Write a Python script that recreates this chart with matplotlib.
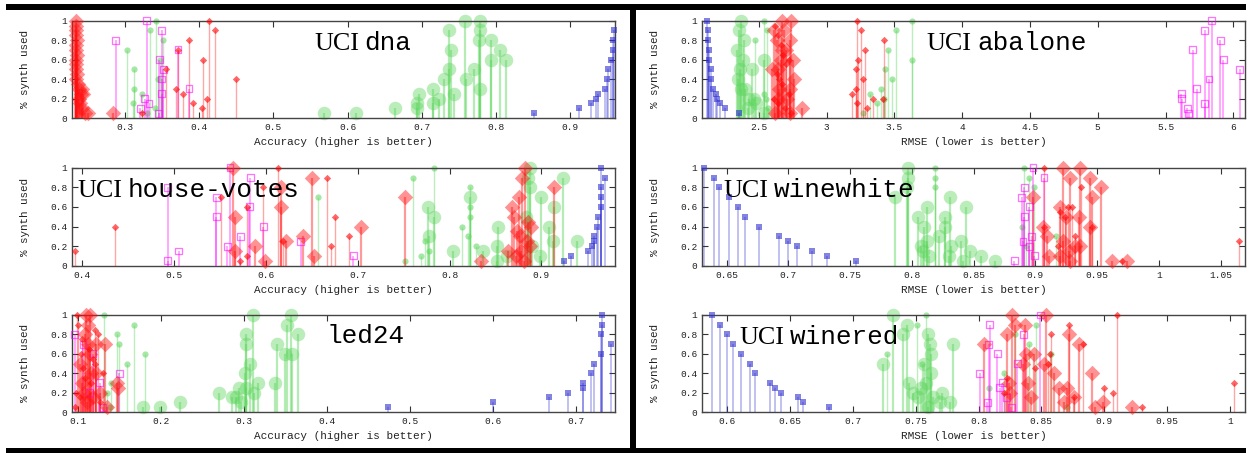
import matplotlib
matplotlib.use("Agg")
import matplotlib.pyplot as plt
from matplotlib.patches import Rectangle
from matplotlib.ticker import FuncFormatter

# ---------------- data: (x, % synth used) ----------------
# UCI dna (accuracy)
DNA_BLUE = [(0.852, 0.05), (0.913, 0.1), (0.929, 0.15), (0.935, 0.2), (0.938, 0.25), (0.947, 0.3),
            (0.950, 0.4), (0.952, 0.5), (0.956, 0.6), (0.958, 0.7), (0.958, 0.8), (0.959, 0.9)]
DNA_GREEN_BIG = [(0.568, 0.05), (0.611, 0.05), (0.664, 0.1), (0.694, 0.1), (0.697, 0.25), (0.694, 0.15),
                 (0.715, 0.15), (0.715, 0.3), (0.724, 0.2), (0.730, 0.4), (0.737, 0.9), (0.737, 0.5),
                 (0.739, 0.7), (0.743, 0.25), (0.758, 1.0), (0.760, 0.4), (0.770, 0.5), (0.779, 1.0),
                 (0.779, 0.9), (0.778, 0.8), (0.779, 0.3), (0.793, 0.8), (0.793, 0.6), (0.806, 0.7),
                 (0.814, 0.6)]
DNA_GREEN_SMALL = [(0.302, 0.7), (0.312, 0.5), (0.312, 0.3), (0.310, 0.15), (0.322, 0.25), (0.329, 0.05),
                   (0.333, 0.9), (0.341, 1.0), (0.344, 0.4), (0.340, 0.1), (0.351, 0.8), (0.347, 0.6)]
DNA_MAGENTA = [(0.287, 0.8), (0.320, 0.1), (0.326, 0.2), (0.329, 1.0), (0.332, 0.15), (0.346, 0.6),
               (0.345, 0.05), (0.349, 0.9), (0.349, 0.4), (0.349, 0.25), (0.351, 0.5), (0.371, 0.7),
               (0.386, 0.3)]
DNA_RED_BIG = [(0.234, 1.0), (0.233, 0.95), (0.234, 0.9), (0.233, 0.85), (0.235, 0.8), (0.234, 0.75),
               (0.233, 0.7), (0.235, 0.65), (0.234, 0.6), (0.233, 0.55), (0.234, 0.5), (0.235, 0.45),
               (0.234, 0.4), (0.236, 0.35), (0.238, 0.3), (0.242, 0.3), (0.240, 0.25), (0.243, 0.25),
               (0.237, 0.2), (0.239, 0.15), (0.241, 0.1), (0.245, 0.05), (0.250, 0.05), (0.284, 0.05)]
DNA_RED_SMALL = [(0.323, 0.05), (0.355, 0.5), (0.368, 0.3), (0.371, 0.7), (0.378, 0.25), (0.386, 0.8),
                 (0.391, 0.15), (0.403, 0.1), (0.405, 0.6), (0.410, 0.2), (0.413, 1.0), (0.421, 0.9),
                 (0.449, 0.4)]

# UCI abalone (RMSE)
ABA_BLUE = [(2.120, 1.0), (2.124, 0.9), (2.126, 0.8), (2.132, 0.7), (2.134, 0.6), (2.144, 0.5),
            (2.149, 0.4), (2.160, 0.3), (2.180, 0.25), (2.190, 0.2), (2.210, 0.15), (2.250, 0.1),
            (2.355, 0.05)]
ABA_GREEN_BIG = [(2.37, 1.0), (2.35, 0.9), (2.39, 0.8), (2.34, 0.7), (2.38, 0.6), (2.45, 0.5), (2.345, 0.4),
                 (2.37, 0.3), (2.40, 0.3), (2.43, 0.2), (2.46, 0.2), (2.48, 0.15), (2.54, 0.05), (2.42, 0.1),
                 (2.36, 0.5), (2.54, 0.6)]
ABA_GREEN_SMALL = [(2.47, 0.8), (2.54, 1.0), (2.56, 0.9), (2.54, 0.25), (2.555, 0.2), (2.57, 0.1),
                   (3.27, 0.05), (3.32, 0.25), (3.37, 0.15), (3.40, 0.3), (3.43, 0.5), (3.45, 0.7),
                   (3.48, 0.4), (3.51, 0.9), (3.626, 1.0), (3.626, 0.6), (3.42, 0.2)]
ABA_MAGENTA = [(5.617, 0.25), (5.62, 0.2), (5.66, 0.1), (5.67, 0.05), (5.70, 0.7), (5.73, 0.3), (5.79, 0.15),
               (5.79, 0.9), (5.82, 0.4), (5.84, 1.0), (5.905, 0.8), (5.925, 0.6), (6.048, 0.5)]
ABA_RED_BIG = [(2.668, 1.0), (2.74, 1.0), (2.61, 0.9), (2.685, 0.9), (2.73, 0.8), (2.63, 0.8), (2.668, 0.7),
               (2.75, 0.6), (2.60, 0.5), (2.64, 0.5), (2.76, 0.4), (2.65, 0.3), (2.73, 0.3), (2.64, 0.2),
               (2.71, 0.2), (2.815, 0.1), (2.62, 0.05), (2.73, 0.05), (2.66, 0.6), (2.70, 0.7)]
ABA_RED_SMALL = [(2.62, 0.95), (2.64, 0.85), (2.66, 0.75), (2.68, 0.65), (2.70, 0.55), (2.63, 0.45),
                 (2.67, 0.35), (2.72, 0.25), (2.64, 0.15), (2.69, 0.1), (2.65, 0.4), (2.72, 0.6),
                 (2.61, 0.2), (2.74, 0.05), (3.221, 1.0), (3.25, 0.9), (3.28, 0.7), (3.23, 0.6),
                 (3.216, 0.5), (3.27, 0.4), (3.216, 0.3), (3.19, 0.25), (3.22, 0.15), (3.30, 0.1),
                 (3.34, 0.2), (3.42, 0.8), (3.417, 0.2)]

# UCI house-votes (accuracy)
HV_BLUE = [(0.925, 0.05), (0.932, 0.1), (0.951, 0.15), (0.955, 0.2), (0.957, 0.25), (0.957, 0.3),
           (0.960, 0.4), (0.962, 0.5), (0.965, 0.6), (0.965, 0.7), (0.965, 0.8), (0.965, 1.0), (0.969, 0.9)]
HV_GREEN_BIG = [(0.776, 0.6), (0.778, 0.3), (0.783, 0.5), (0.804, 0.15), (0.822, 0.7), (0.836, 0.15),
                (0.852, 0.2), (0.853, 0.4), (0.852, 0.05), (0.862, 0.1), (0.883, 0.5), (0.888, 1.0),
                (0.887, 0.8), (0.885, 0.9), (0.890, 0.2), (0.898, 0.1), (0.900, 0.7), (0.908, 0.4),
                (0.914, 0.6), (0.913, 0.25), (0.923, 0.9), (0.939, 0.25)]
HV_GREEN_SMALL = [(0.657, 0.7), (0.751, 0.05), (0.760, 0.9), (0.769, 0.1), (0.773, 0.25), (0.778, 0.15),
                  (0.783, 1.0), (0.813, 0.4), (0.820, 0.3), (0.822, 0.8), (0.822, 0.6), (0.822, 0.5),
                  (0.829, 0.2)]
HV_MAGENTA = [(0.493, 0.8), (0.493, 0.05), (0.505, 0.15), (0.546, 0.7), (0.546, 0.5), (0.558, 0.2),
              (0.561, 1.0), (0.572, 0.3), (0.582, 0.6), (0.583, 0.9), (0.597, 0.4), (0.638, 0.25),
              (0.695, 0.1)]
HV_RED_BIG = [(0.564, 1.0), (0.566, 0.5), (0.566, 0.15), (0.588, 0.2), (0.599, 0.05), (0.616, 0.8),
              (0.617, 0.6), (0.622, 0.25), (0.640, 0.3), (0.650, 0.9), (0.652, 0.1), (0.704, 0.4),
              (0.751, 0.7), (0.834, 0.05), (0.882, 1.0), (0.879, 0.9), (0.875, 0.7), (0.868, 0.6),
              (0.870, 0.5), (0.864, 0.15), (0.872, 0.1), (0.877, 0.3), (0.884, 0.25), (0.887, 0.2),
              (0.889, 0.4), (0.914, 0.8), (0.873, 0.35), (0.878, 0.15), (0.881, 0.05), (0.885, 0.45)]
HV_RED_SMALL = [(0.392, 0.15), (0.436, 0.4), (0.551, 0.7), (0.579, 0.6), (0.579, 0.1), (0.572, 0.05),
                (0.597, 0.8), (0.613, 1.0), (0.619, 0.25), (0.666, 0.9), (0.671, 0.2), (0.675, 0.5),
                (0.691, 0.3)]

# UCI winewhite (RMSE)
WW_BLUE = [(0.632, 1.0), (0.640, 0.9), (0.644, 0.8), (0.652, 0.7), (0.659, 0.6), (0.665, 0.5),
           (0.676, 0.4), (0.692, 0.3), (0.700, 0.25), (0.707, 0.2), (0.719, 0.15), (0.731, 0.1),
           (0.755, 0.05)]
WW_GREEN_BIG = [(0.786, 0.7), (0.797, 1.0), (0.797, 0.9), (0.796, 0.8), (0.805, 0.5), (0.812, 0.6),
                (0.810, 0.4), (0.807, 0.2), (0.812, 0.25), (0.822, 0.3), (0.830, 0.1), (0.841, 0.05),
                (0.831, 0.7), (0.844, 0.6), (0.840, 0.25), (0.827, 0.4), (0.827, 0.5), (0.832, 0.2),
                (0.847, 0.15), (0.856, 0.1), (0.867, 0.05), (0.809, 0.15), (0.814, 0.1)]
WW_GREEN_SMALL = [(0.819, 1.0), (0.819, 0.9), (0.819, 0.8), (0.891, 1.0), (0.895, 0.9), (0.899, 0.8),
                  (0.889, 0.4), (0.892, 0.2), (0.917, 0.3)]
WW_MAGENTA = [(0.883, 0.05), (0.889, 0.7), (0.891, 0.8), (0.891, 0.5), (0.890, 0.25), (0.895, 0.6),
              (0.895, 0.2), (0.898, 1.0), (0.897, 0.3), (0.899, 0.1), (0.907, 0.9)]
WW_RED_BIG = [(0.898, 0.7), (0.906, 0.4), (0.909, 0.3), (0.911, 0.1), (0.922, 1.0), (0.928, 0.9),
              (0.920, 0.6), (0.925, 0.5), (0.922, 0.25), (0.927, 0.15), (0.932, 0.2), (0.936, 1.0),
              (0.944, 0.9), (0.953, 0.8), (0.946, 0.7), (0.935, 0.5), (0.944, 0.4), (0.936, 0.2),
              (0.962, 0.05), (0.974, 0.05), (0.920, 0.1), (0.928, 0.05)]
WW_RED_SMALL = [(0.907, 1.0), (0.907, 0.4), (0.926, 0.6), (0.930, 0.6), (0.924, 0.5), (0.937, 0.8),
                (0.946, 0.4), (0.970, 0.05), (1.065, 0.25), (0.920, 0.55), (0.932, 0.3), (0.918, 0.2)]

# led24 (accuracy)
LED_BLUE = [(0.474, 0.05), (0.600, 0.1), (0.667, 0.15), (0.690, 0.2), (0.708, 0.3), (0.708, 0.25),
            (0.718, 0.4), (0.722, 0.5), (0.730, 0.6), (0.730, 0.8), (0.731, 1.0), (0.731, 0.9),
            (0.742, 0.7)]
LED_GREEN_BIG = [(0.178, 0.05), (0.199, 0.05), (0.223, 0.1), (0.270, 0.2), (0.285, 0.15), (0.290, 0.15),
                 (0.294, 0.25), (0.301, 0.4), (0.303, 0.25), (0.302, 0.7), (0.303, 0.8), (0.307, 0.5),
                 (0.311, 1.0), (0.312, 0.2), (0.317, 0.3), (0.337, 0.3), (0.340, 0.7), (0.349, 0.6),
                 (0.352, 0.9), (0.357, 1.0), (0.358, 0.6), (0.365, 0.8), (0.296, 0.1)]
LED_GREEN_SMALL = [(0.131, 1.0), (0.147, 0.8), (0.150, 0.7), (0.167, 0.9), (0.159, 0.5), (0.181, 0.6),
                   (0.140, 0.3), (0.138, 0.05), (0.135, 0.2)]
LED_MAGENTA = [(0.096, 0.8), (0.106, 0.7), (0.114, 0.2), (0.126, 0.3), (0.130, 0.05), (0.150, 0.4),
               (0.118, 0.6)]
LED_RED_BIG = [(0.110, 1.0), (0.114, 1.0), (0.112, 0.9), (0.108, 0.8), (0.112, 0.7), (0.102, 0.5),
               (0.114, 0.6), (0.116, 0.4), (0.107, 0.2), (0.111, 0.1), (0.122, 0.7), (0.133, 0.7),
               (0.122, 0.4), (0.126, 0.2), (0.135, 0.05), (0.147, 0.3), (0.148, 0.25), (0.105, 0.3),
               (0.118, 0.15)]
LED_RED_SMALL = [(0.096, 0.05), (0.099, 1.0), (0.100, 0.9), (0.104, 0.6), (0.124, 0.8), (0.130, 0.4),
                 (0.120, 0.5), (0.116, 0.3), (0.106, 0.45), (0.109, 0.35), (0.113, 0.65), (0.118, 0.55),
                 (0.098, 0.2), (0.127, 0.1), (0.105, 0.75), (0.120, 0.85), (0.102, 0.15)]

# UCI winered (RMSE)
WR_BLUE = [(0.588, 1.0), (0.594, 0.9), (0.600, 0.8), (0.605, 0.7), (0.611, 0.6), (0.618, 0.5),
           (0.622, 0.4), (0.634, 0.3), (0.638, 0.25), (0.643, 0.2), (0.656, 0.15), (0.660, 0.1),
           (0.681, 0.05)]
WR_GREEN_BIG = [(0.724, 0.5), (0.732, 1.0), (0.743, 0.9), (0.740, 0.8), (0.745, 0.3), (0.760, 0.8),
                (0.761, 0.7), (0.762, 0.6), (0.757, 0.5), (0.762, 0.4), (0.758, 0.3), (0.754, 0.25),
                (0.752, 0.15), (0.764, 0.15), (0.771, 0.2), (0.769, 0.1), (0.780, 0.7), (0.777, 0.1),
                (0.760, 0.05), (0.748, 0.2)]
WR_GREEN_SMALL = [(0.727, 0.6), (0.751, 0.9), (0.758, 1.0), (0.820, 0.4), (0.808, 0.25), (0.829, 0.8),
                  (0.840, 0.7), (0.846, 0.9), (0.858, 0.6), (0.870, 0.05), (0.755, 0.5)]
WR_MAGENTA = [(0.801, 0.4), (0.808, 0.7), (0.809, 0.9), (0.807, 0.1), (0.815, 0.6), (0.817, 0.25),
              (0.819, 0.3), (0.822, 0.15), (0.826, 0.05), (0.831, 0.5), (0.836, 0.8), (0.849, 1.0)]
WR_RED_BIG = [(0.804, 0.7), (0.823, 0.8), (0.827, 1.0), (0.829, 0.9), (0.824, 0.3), (0.825, 0.2),
              (0.835, 0.5), (0.837, 0.9), (0.838, 0.6), (0.839, 0.3), (0.844, 0.6), (0.842, 0.15),
              (0.852, 0.5), (0.854, 1.0), (0.860, 0.4), (0.864, 0.25), (0.868, 0.1), (0.870, 0.25),
              (0.872, 0.8), (0.876, 0.15), (0.880, 0.7), (0.890, 0.4), (0.893, 0.05), (0.899, 0.1),
              (0.922, 0.05)]
WR_RED_SMALL = [(0.858, 0.8), (0.857, 0.6), (0.872, 0.9), (0.876, 0.15), (0.883, 0.7), (0.900, 0.25),
                (0.907, 0.2), (0.910, 1.0), (0.930, 0.05), (1.003, 0.3), (0.823, 0.35), (0.845, 0.45),
                (0.855, 0.5), (0.820, 0.2)]

ACC_LABEL = "Accuracy (higher is better)"
RMSE_LABEL = "RMSE (lower is better)"
Y_TICKS = [0, 0.2, 0.4, 0.6, 0.8, 1]

MONO = "Liberation Mono"
SERIF = "Liberation Serif"

# ---------------- figure ----------------
fig = plt.figure(figsize=(12.49, 4.53), dpi=100)
W, H = 1249.0, 453.0


def axes_px(x0, x1, top, bottom):
    return fig.add_axes([x0 / W, 1 - bottom / H, (x1 - x0) / W, (bottom - top) / H])


def stem(ax, pts, color, marker, s, stem_alpha, mark_alpha, lw, filled=True, z=3):
    xs = [p[0] for p in pts]
    ys = [p[1] for p in pts]
    ax.vlines(xs, 0, ys, colors=color, alpha=stem_alpha, lw=lw, zorder=z - 0.5)
    if filled:
        ax.scatter(xs, ys, s=s, marker=marker, color=color, alpha=mark_alpha, lw=0,
                   zorder=z, clip_on=False)
    else:
        ax.scatter(xs, ys, s=s, marker=marker, facecolors="none", edgecolors=color,
                   alpha=mark_alpha, lw=0.9, zorder=z, clip_on=False)


fmt = FuncFormatter(lambda v, p: f"{round(v, 3):g}")

panels = [
    # (x0, x1, top, bottom, xlim, xticks, xlabel, serif, mono, tx, ty, series)
    (72, 615, 20.7, 118, (0.228, 0.961), [0.3, 0.4, 0.5, 0.6, 0.7, 0.8, 0.9], ACC_LABEL,
     "UCI", "dna", 0.446, 0.70,
     (DNA_BLUE, DNA_GREEN_BIG, DNA_GREEN_SMALL, DNA_MAGENTA, DNA_RED_BIG, DNA_RED_SMALL)),
    (702, 1245, 20.7, 118, (2.08, 6.086), [2.5, 3, 3.5, 4, 4.5, 5, 5.5, 6], RMSE_LABEL,
     "UCI", "abalone", 0.414, 0.70,
     (ABA_BLUE, ABA_GREEN_BIG, ABA_GREEN_SMALL, ABA_MAGENTA, ABA_RED_BIG, ABA_RED_SMALL)),
    (72, 615, 167.7, 265.7, (0.389, 0.98), [0.4, 0.5, 0.6, 0.7, 0.8, 0.9], ACC_LABEL,
     "UCI", "house-votes", 0.010, 0.70,
     (HV_BLUE, HV_GREEN_BIG, HV_GREEN_SMALL, HV_MAGENTA, HV_RED_BIG, HV_RED_SMALL)),
    (702, 1245, 167.7, 265.7, (0.63, 1.0697),
     [0.65, 0.7, 0.75, 0.8, 0.85, 0.9, 0.95, 1.0, 1.05], RMSE_LABEL,
     "UCI", "winewhite", 0.039, 0.70,
     (WW_BLUE, WW_GREEN_BIG, WW_GREEN_SMALL, WW_MAGENTA, WW_RED_BIG, WW_RED_SMALL)),
    (72, 615, 315, 412, (0.0928, 0.747), [0.1, 0.2, 0.3, 0.4, 0.5, 0.6, 0.7], ACC_LABEL,
     None, "led24", 0.468, 0.708,
     (LED_BLUE, LED_GREEN_BIG, LED_GREEN_SMALL, LED_MAGENTA, LED_RED_BIG, LED_RED_SMALL)),
    (702, 1245, 315, 412, (0.58, 1.012), [0.6, 0.65, 0.7, 0.75, 0.8, 0.85, 0.9, 0.95, 1.0], RMSE_LABEL,
     "UCI", "winered", 0.069, 0.70,
     (WR_BLUE, WR_GREEN_BIG, WR_GREEN_SMALL, WR_MAGENTA, WR_RED_BIG, WR_RED_SMALL)),
]

for (x0, x1, top, bottom, xlim, xticks, xlabel, serif, mono, tx, ty, series) in panels:
    ax = axes_px(x0, x1, top, bottom)
    blue, gbig, gsmall, mag, rbig, rsmall = series

    stem(ax, gbig, "#5cd65c", "o", 95, 0.45, 0.42, 1.6, z=2)
    stem(ax, gsmall, "#5cd65c", "o", 20, 0.4, 0.55, 1.0, z=2.2)
    stem(ax, blue, "#3030d0", "s", 16, 0.35, 0.6, 1.2, z=3)
    stem(ax, mag, "#ff00ff", "s", 24, 0.4, 0.55, 1.2, filled=False, z=3.2)
    stem(ax, rsmall, "#ff0000", "D", 14, 0.35, 0.6, 1.0, z=3.4)
    stem(ax, rbig, "#ff1010", "D", 62, 0.42, 0.45, 1.6, z=3.6)

    ax.set_xlim(*xlim)
    ax.set_ylim(0, 1)
    ax.set_xticks(xticks)
    ax.xaxis.set_major_formatter(fmt)
    ax.set_yticks(Y_TICKS)
    ax.set_yticklabels(["0", "0.2", "0.4", "0.6", "0.8", "1"])
    ax.tick_params(direction="in", length=4, width=0.8, color="#333333",
                   top=True, right=True, labelsize=6.8, pad=3.5, labelcolor="#222222")
    for lab in ax.get_xticklabels() + ax.get_yticklabels():
        lab.set_family(MONO)
    for sp in ax.spines.values():
        sp.set_color("#444444")
        sp.set_linewidth(1.0)

    ax.set_xlabel(xlabel, family=MONO, fontsize=7.9, color="#222222")
    ax.xaxis.set_label_coords(0.5, -0.2)
    ax.set_ylabel("% synth used", family=MONO, fontsize=7.8, color="#222222")
    ax.yaxis.set_label_coords(-0.077, 0.5)

    if serif:
        t1 = ax.text(tx, ty, serif, transform=ax.transAxes, fontsize=18.7, family=SERIF,
                     va="baseline", ha="left", zorder=6)
        ax.annotate(mono, xy=(1, 0), xycoords=t1, xytext=(4, 0), textcoords="offset points",
                    fontsize=18.7, family=MONO, va="bottom", ha="left", zorder=6)
    else:
        ax.text(tx, ty, mono, transform=ax.transAxes, fontsize=18.7, family=MONO,
                va="baseline", ha="left", zorder=6)

# black frame bars
for (bx, by, bw, bh) in [(6, 4, 1240, 5.5), (6, 448, 1240, 5), (630, 4, 6, 449)]:
    fig.add_artist(Rectangle((bx / W, 1 - (by + bh) / H), bw / W, bh / H,
                             transform=fig.transFigure, color="black", lw=0))

fig.savefig("out.png", dpi=100)
